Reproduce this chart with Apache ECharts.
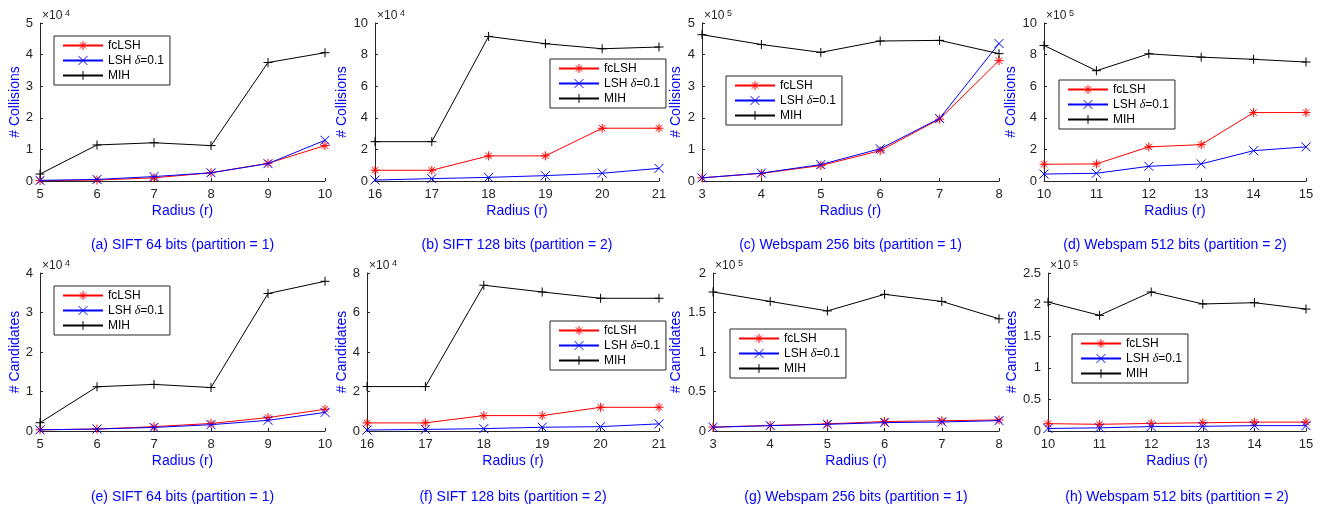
<!DOCTYPE html>
<html>
<head>
<meta charset="utf-8">
<title>Collisions / Candidates vs Radius</title>
<script src="https://cdn.jsdelivr.net/npm/echarts@6/dist/echarts.min.js"></script>
<style>
  html, body { margin: 0; padding: 0; background: #fff; }
  #chart { width: 1321px; height: 510px; }
</style>
</head>
<body>
<div id="chart"></div>
<script>
// x axis: radius values per dataset
var radiusSift64 = [5, 6, 7, 8, 9, 10];
var radiusSift128 = [16, 17, 18, 19, 20, 21];
var radiusWeb256 = [3, 4, 5, 6, 7, 8];
var radiusWeb512 = [10, 11, 12, 13, 14, 15];

// # Collisions (values in units of the axis multiplier)
var collSift64Fc = [0.01, 0.03, 0.10, 0.26, 0.56, 1.12];
var collSift64Lsh = [0.02, 0.05, 0.14, 0.26, 0.55, 1.29];
var collSift64Mih = [0.22, 1.14, 1.21, 1.12, 3.75, 4.06];

var collSift128Fc = [0.68, 0.68, 1.59, 1.59, 3.34, 3.34];
var collSift128Lsh = [0.06, 0.15, 0.23, 0.34, 0.49, 0.80];
var collSift128Mih = [2.49, 2.49, 9.15, 8.69, 8.37, 8.48];

var collWeb256Fc = [0.10, 0.24, 0.49, 0.96, 1.96, 3.81];
var collWeb256Lsh = [0.10, 0.25, 0.52, 1.02, 1.98, 4.35];
var collWeb256Mih = [4.63, 4.32, 4.07, 4.43, 4.45, 4.03];

var collWeb512Fc = [1.06, 1.08, 2.16, 2.30, 4.33, 4.33];
var collWeb512Lsh = [0.44, 0.49, 0.93, 1.08, 1.92, 2.16];
var collWeb512Mih = [8.58, 6.98, 8.05, 7.84, 7.70, 7.53];

// # Candidates
var candSift64Fc = [0.03, 0.05, 0.11, 0.19, 0.34, 0.55];
var candSift64Lsh = [0.03, 0.05, 0.09, 0.16, 0.27, 0.47];
var candSift64Mih = [0.21, 1.12, 1.18, 1.10, 3.48, 3.79];

var candSift128Fc = [0.41, 0.41, 0.78, 0.78, 1.20, 1.20];
var candSift128Lsh = [0.05, 0.08, 0.12, 0.19, 0.22, 0.36];
var candSift128Mih = [2.25, 2.25, 7.38, 7.04, 6.72, 6.72];

var candWeb256Fc = [0.050, 0.070, 0.090, 0.120, 0.130, 0.140];
var candWeb256Lsh = [0.047, 0.068, 0.085, 0.106, 0.114, 0.131];
var candWeb256Mih = [1.76, 1.64, 1.52, 1.73, 1.64, 1.42];

var candWeb512Fc = [0.116, 0.106, 0.120, 0.130, 0.140, 0.140];
var candWeb512Lsh = [0.040, 0.050, 0.070, 0.074, 0.085, 0.085];
var candWeb512Mih = [2.04, 1.83, 2.20, 2.01, 2.03, 1.93];

var seriesNames = ['fcLSH', 'LSH δ=0.1', 'MIH'];

// layout of the 8 panels: grid = [left, top, width, height]
var panels = [
  { x: radiusSift64, ys: [collSift64Fc, collSift64Lsh, collSift64Mih], yName: '# Collisions', yMax: 5, yStep: 1, exp: '4',
    caption: '(a) SIFT 64 bits (partition = 1)', grid: [40, 23, 285, 158], nameGap: 18, legend: [54, 36], capGap: 222 },
  { x: radiusSift128, ys: [collSift128Fc, collSift128Lsh, collSift128Mih], yName: '# Collisions', yMax: 10, yStep: 2, exp: '4',
    caption: '(b) SIFT 128 bits (partition = 2)', grid: [375, 23, 284, 158], nameGap: 26, legend: [550, 59], capGap: 222 },
  { x: radiusWeb256, ys: [collWeb256Fc, collWeb256Lsh, collWeb256Mih], yName: '# Collisions', yMax: 5, yStep: 1, exp: '5',
    caption: '(c) Webspam 256 bits (partition = 1)', grid: [702, 23, 297, 158], nameGap: 19, legend: [726, 76], capGap: 222 },
  { x: radiusWeb512, ys: [collWeb512Fc, collWeb512Lsh, collWeb512Mih], yName: '# Collisions', yMax: 10, yStep: 2, exp: '5',
    caption: '(d) Webspam 512 bits (partition = 2)', grid: [1044, 23, 262, 158], nameGap: 25, legend: [1059, 80], capGap: 222 },
  { x: radiusSift64, ys: [candSift64Fc, candSift64Lsh, candSift64Mih], yName: '# Candidates', yMax: 4, yStep: 1, exp: '4',
    caption: '(e) SIFT 64 bits (partition = 1)', grid: [40, 273, 285, 158], nameGap: 18, legend: [54, 286], capGap: 224 },
  { x: radiusSift128, ys: [candSift128Fc, candSift128Lsh, candSift128Mih], yName: '# Candidates', yMax: 8, yStep: 2, exp: '4',
    caption: '(f) SIFT 128 bits (partition = 2)', grid: [367, 273, 292, 158], nameGap: 18, legend: [550, 321], capGap: 224 },
  { x: radiusWeb256, ys: [candWeb256Fc, candWeb256Lsh, candWeb256Mih], yName: '# Candidates', yMax: 2, yStep: 0.5, exp: '5',
    caption: '(g) Webspam 256 bits (partition = 1)', grid: [713, 273, 286, 158], nameGap: 30, legend: [730, 329], capGap: 224 },
  { x: radiusWeb512, ys: [candWeb512Fc, candWeb512Lsh, candWeb512Mih], yName: '# Candidates', yMax: 2.5, yStep: 0.5, exp: '5',
    caption: '(h) Webspam 512 bits (partition = 2)', grid: [1048, 273, 258, 158], nameGap: 29, legend: [1072, 334], capGap: 224 }
];

var FONT = 'Liberation Sans, Arial, Helvetica, sans-serif';
var AXIS_COLOR = '#262626';
var BLUE = '#0000ff';
var styles = [
  { color: '#ff0000', symbol: 'path://M0,5L10,5M5,0L5,10M1.5,1.5L8.5,8.5M1.5,8.5L8.5,1.5' },
  { color: '#0000ff', symbol: 'path://M0,0L10,10M0,10L10,0' },
  { color: '#000000', symbol: 'path://M0,5L10,5M5,0L5,10' }
];

var grids = [], xAxes = [], yAxes = [], series = [], legends = [], graphics = [];

panels.forEach(function (p, i) {
  var g = p.grid;
  grids.push({ left: g[0], top: g[1], width: g[2], height: g[3], containLabel: false, outerBoundsMode: 'none' });

  xAxes.push({
    gridIndex: i, type: 'value', min: p.x[0], max: p.x[p.x.length - 1], interval: 1,
    name: 'Radius (r)', nameLocation: 'middle', nameGap: 23,
    nameTextStyle: { color: BLUE, fontSize: 14, fontFamily: FONT },
    axisLine: { show: true, onZero: false, lineStyle: { color: AXIS_COLOR, width: 1 } },
    axisTick: { show: true, inside: true, length: 3, lineStyle: { color: AXIS_COLOR } },
    axisLabel: { color: AXIS_COLOR, fontSize: 13, fontFamily: FONT, margin: 7, showMinLabel: true, showMaxLabel: true },
    splitLine: { show: false }
  });

  yAxes.push({
    gridIndex: i, type: 'value', min: 0, max: p.yMax, interval: p.yStep,
    name: p.yName, nameLocation: 'middle', nameRotate: 90, nameGap: p.nameGap,
    nameTextStyle: { color: BLUE, fontSize: 14, fontFamily: FONT },
    axisLine: { show: true, onZero: false, lineStyle: { color: AXIS_COLOR, width: 1 } },
    axisTick: { show: true, inside: true, length: 3, lineStyle: { color: AXIS_COLOR } },
    axisLabel: { color: AXIS_COLOR, fontSize: 13, fontFamily: FONT, margin: 7, showMinLabel: true, showMaxLabel: true },
    splitLine: { show: false }
  });

  p.ys.forEach(function (vals, k) {
    var s = styles[k];
    series.push({
      type: 'line', name: seriesNames[k], xAxisIndex: i, yAxisIndex: i,
      data: p.x.map(function (xv, j) { return [xv, vals[j]]; }),
      symbol: s.symbol, symbolSize: 9, showSymbol: true, symbolKeepAspect: true,
      lineStyle: { color: s.color, width: 1 },
      itemStyle: { color: s.color, borderColor: s.color, borderWidth: 1 },
      emphasis: { disabled: true }, silent: true, z: 2 + k
    });
  });

  legends.push({
    left: p.legend[0], top: p.legend[1], orient: 'vertical',
    data: seriesNames,
    itemWidth: 40, itemHeight: 11, itemGap: 2, padding: [3, 6, 3, 8],
    backgroundColor: '#ffffff', borderColor: '#262626', borderWidth: 1, borderRadius: 0,
    selectedMode: false,
    itemStyle: { borderWidth: 1 },
    textStyle: {
      color: '#000', fontSize: 12, fontFamily: FONT, lineHeight: 13,
      rich: {
        n: { color: '#000', fontSize: 12, fontFamily: FONT, lineHeight: 13 },
        i: { color: '#000', fontSize: 12, fontFamily: 'Liberation Serif, Times New Roman, serif', fontStyle: 'italic', lineHeight: 13 }
      }
    },
    formatter: function (name) {
      if (name.indexOf('δ') >= 0) return '{n|LSH }{i|δ}{n|=0.1}';
      return '{n|' + name + '}';
    }
  });

  // exponent multiplier above the y axis
  graphics.push({
    type: 'text', left: g[0] + 2, top: g[1] - 13,
    style: { text: '×10', fill: AXIS_COLOR, fontSize: 12, fontFamily: FONT }
  });
  graphics.push({
    type: 'text', left: g[0] + 25, top: g[1] - 14,
    style: { text: p.exp, fill: AXIS_COLOR, fontSize: 9, fontFamily: FONT }
  });
  // caption
  graphics.push({
    type: 'text', x: g[0] + g[2] / 2, y: g[1] + p.capGap,
    style: { text: p.caption, fill: BLUE, fontSize: 14, fontFamily: FONT, align: 'center', verticalAlign: 'middle' }
  });
});

var chart = echarts.init(document.getElementById('chart'));
chart.setOption({
  animation: false,
  backgroundColor: '#ffffff',
  grid: grids,
  xAxis: xAxes,
  yAxis: yAxes,
  legend: legends,
  series: series,
  graphic: graphics
});
</script>
</body>
</html>
